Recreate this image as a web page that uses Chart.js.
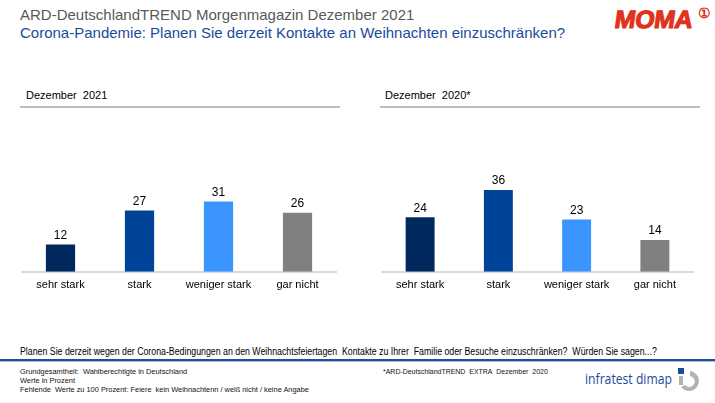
<!DOCTYPE html>
<html>
<head>
<meta charset="utf-8">
<script src="https://cdn.jsdelivr.net/npm/chart.js@4.4.1/dist/chart.umd.min.js"></script>
<style>
  body { margin: 0; width: 715px; height: 403px; background: #fff; position: relative; overflow: hidden;
         font-family: "Liberation Sans", Arial, sans-serif; }
  .abs { position: absolute; white-space: nowrap; }
  .t1 { left: 20px; top: 6px; font-size: 15px; color: #595959; }
  .t2 { left: 20px; top: 24px; font-size: 15px; color: #1a4b9b; }
  .hdr { top: 89px; font-size: 11px; color: #000; }
  .rule { height: 2px; background: #bdbdbd; top: 106px; }
  .q { left: 20px; top: 346px; font-size: 10px; color: #000; transform: scaleX(0.878); transform-origin: left top; }
  .note { font-size: 8px; color: #111; line-height: 9px; transform: scaleX(0.925); transform-origin: left top; }
  .box { position: absolute; }
</style>
</head>
<body>
<div class="abs t1">ARD-DeutschlandTREND Morgenmagazin Dezember 2021</div>
<div class="abs t2">Corona-Pandemie: Planen Sie derzeit Kontakte an Weihnachten einzuschränken?</div>

<div class="abs" style="left:615px;top:5px;font-size:25px;font-weight:bold;color:#e0321c;letter-spacing:-0.4px;transform:skewX(-8deg);-webkit-text-stroke:1.2px #e0321c;">MOMA</div>
<div class="abs" style="left:698px;top:5px;font-size:14px;font-weight:bold;color:#e0321c;">&#9312;</div>

<div class="abs hdr" style="left:26px;">Dezember&nbsp; 2021</div>
<div class="abs rule" style="left:20px;width:320px;"></div>
<div class="abs hdr" style="left:385px;">Dezember&nbsp; 2020*</div>
<div class="abs rule" style="left:380px;width:320px;"></div>

<div class="box" style="left:21px;top:149px;width:316px;height:150px;"><canvas id="c2021"></canvas></div>
<div class="box" style="left:381px;top:149px;width:313px;height:150px;"><canvas id="c2020"></canvas></div>

<div class="abs q">Planen Sie derzeit wegen der Corona-Bedingungen an den Weihnachtsfeiertagen&nbsp; Kontakte zu Ihrer&nbsp; Familie oder Besuche einzuschränken?&nbsp; Würden Sie sagen...?</div>
<div class="abs" style="left:0;top:359px;width:715px;height:2px;background:#1f4e9e;"></div>
<div class="abs" style="left:0;top:361px;width:715px;height:1px;background:#a9bddd;"></div>

<div class="abs note" style="left:20px;top:367px;">Grundgesamtheit:&nbsp; Wahlberechtigte in Deutschland<br>Werte in Prozent<br>Fehlende&nbsp; Werte zu 100 Prozent: Feiere&nbsp; kein Weihnachtenn / weiß nicht / keine Angabe</div>
<div class="abs note" style="left:383px;top:367px;transform:scaleX(0.87);">*ARD-DeutschlandTREND&nbsp; EXTRA&nbsp; Dezember&nbsp; 2020</div>

<div class="abs" style="left:585px;top:369px;font-size:14px;color:#1a4b9b;font-family:'Open Sans','Liberation Sans';transform:scaleX(0.87);transform-origin:left top;">infratest dimap</div>
<svg class="abs" style="left:676px;top:367px;" width="30" height="28" viewBox="0 0 30 28">
  <rect x="2" y="1" width="6" height="6" fill="#1a4b9b"/>
  <path d="M14 4 A10 10 0 1 1 5 20 L9 18 A5.5 5.5 0 1 0 14 9 Z" fill="#b3b3b3"/>
  <rect x="3" y="9" width="4" height="9" fill="#b3b3b3"/>
</svg>

<script>
const categories = ['sehr stark', 'stark', 'weniger stark', 'gar nicht'];
const values2021 = [12, 27, 31, 26];
const values2020 = [24, 36, 23, 14];
const barColors = ['#002a5e', '#00449a', '#3b95ff', '#808080'];

// draws the number above each bar
const valueLabels = {
    id: 'valueLabels',
    afterDatasetsDraw(chart) {
        const ctx = chart.ctx;
        const meta = chart.getDatasetMeta(0);
        ctx.save();
        ctx.font = '12px "Liberation Sans", Arial';
        ctx.fillStyle = '#000';
        ctx.textAlign = 'center';
        ctx.textBaseline = 'bottom';
        meta.data.forEach(function(bar, i) {
            ctx.fillText(chart.data.datasets[0].data[i], bar.x, bar.y - 3);
        });
        ctx.restore();
    }
};

function makeChart(id, values) {
    new Chart(document.getElementById(id), {
        type: 'bar',
        data: {
            labels: categories,
            datasets: [{
                data: values,
                backgroundColor: barColors,
                barPercentage: 0.37,
                categoryPercentage: 1
            }]
        },
        options: {
            responsive: true,
            maintainAspectRatio: false,
            animation: false,
            layout: { padding: { top: 32, left: 0, right: 0, bottom: 0 } },
            plugins: { legend: { display: false }, tooltip: { enabled: false } },
            scales: {
                x: {
                    grid: { display: false, drawTicks: false },
                    border: { color: '#d9d9d9', width: 2 },
                    ticks: { color: '#000', font: { size: 11, family: '"Liberation Sans", Arial' }, padding: 7 }
                },
                y: { display: false, min: 0, max: 40 }
            }
        },
        plugins: [valueLabels]
    });
}

makeChart('c2021', values2021);
makeChart('c2020', values2020);
</script>
</body>
</html>
